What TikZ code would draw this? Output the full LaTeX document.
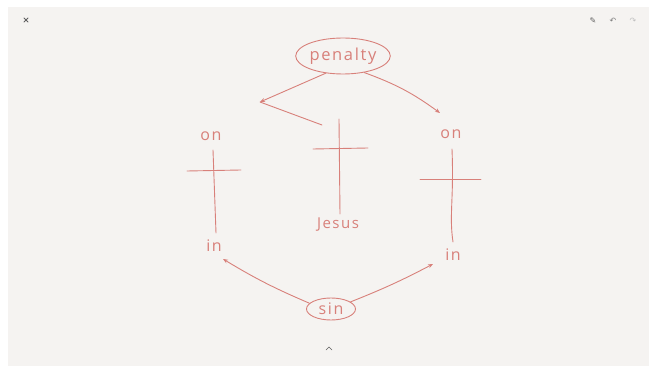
\documentclass[tikz,border=0pt]{standalone}
\usepackage{fontspec}
\setmainfont{Open Sans}
\newfontfamily\handfont[LetterSpace=10]{Open Sans}
\newfontfamily\symfont{DejaVu Sans}
\usetikzlibrary{arrows.meta,positioning,shapes.geometric}
\definecolor{ink}{RGB}{216,128,122}
\definecolor{paper}{RGB}{245,243,241}
\definecolor{uigray}{RGB}{95,95,95}

\begin{document}
\begin{tikzpicture}[
    x=1pt, y=-1pt,
    font=\handfont\fontsize{16}{18}\selectfont,
    >={Stealth[length=5pt,width=4pt]},
    % Define styles for the sketch
    bubble/.style={ellipse, draw=ink, line width=0.9pt, text=ink, inner sep=0pt},
    word/.style={text=ink, inner sep=1pt},
    stroke/.style={draw=ink, line width=0.9pt, line cap=round},
    arrow/.style={stroke, ->},
    icon/.style={text=uigray, inner sep=0pt, font=\symfont\fontsize{8}{8}\selectfont},
    uiline/.style={draw=uigray, line width=0.9pt, line cap=round}
]

% ==========================================
% Canvas
% ==========================================
\fill[white] (0,0) rectangle (649,366);
\fill[paper] (8,7) rectangle (649,366);
\useasboundingbox (0,0) rectangle (649,366);

% toolbar
\draw[uiline] (24,18) -- (28,22) (24,22) -- (28,18);
\node[icon] (pencil) at (593,21) {✎};
\node[icon, text=uigray!80] (undo) at (613,21) {↶};
\node[icon, text=uigray!40] (redo) at (633,21) {↷};
\draw[uiline, line width=0.7pt] (326,350) -- (329,347) -- (332,350);

% ==========================================
% Top: penalty
% ==========================================
\node[bubble, minimum width=94pt, minimum height=36pt, font=\handfont\fontsize{16.5}{18}\selectfont] (penalty) at (343,56) {penalty};

% ==========================================
% Left cross
% ==========================================
\node[word] (onL) at (211,136) {on};
\node[word] (inL) at (214,246) {in};
\draw[stroke] (213,150) -- (216,233);
\draw[stroke] (187,171) -- (241,170);

% ==========================================
% Middle cross: Jesus
% ==========================================
\node[word, font=\handfont\fontsize{15}{16}\selectfont] (jesus) at (338,225) {Jesus};
\draw[stroke] (339,119) -- (340,214);
\draw[stroke] (313,149) -- (368,148);

% ==========================================
% Right cross
% ==========================================
\node[word] (onR) at (451,134) {on};
\node[word] (inR) at (453,255) {in};
\draw[stroke] (452,149) .. controls (454,200) and (449,215) .. (453,242);
\draw[stroke] (420,179) -- (481,179);

% ==========================================
% Bottom: sin
% ==========================================
\node[bubble, minimum width=49pt, minimum height=22pt] (sin) at (331,309) {sin};

% ==========================================
% Connectors
% ==========================================
\coordinate (turn) at (260,102);
\coordinate (crosstop) at (322,125);
\coordinate (onRtip) at (440,113);
\coordinate (inLtip) at (223,259);
\coordinate (inRtip) at (433,264);

\draw[arrow] (penalty.225) -- (turn);
\draw[stroke] (turn) -- (crosstop);
\draw[arrow] (penalty.-38) to[bend left=8] (onRtip);
\draw[arrow] (sin.165) to[bend left=4] (inLtip);
\draw[arrow] (sin.20) to[bend right=3] (inRtip);

\end{tikzpicture}
\end{document}
